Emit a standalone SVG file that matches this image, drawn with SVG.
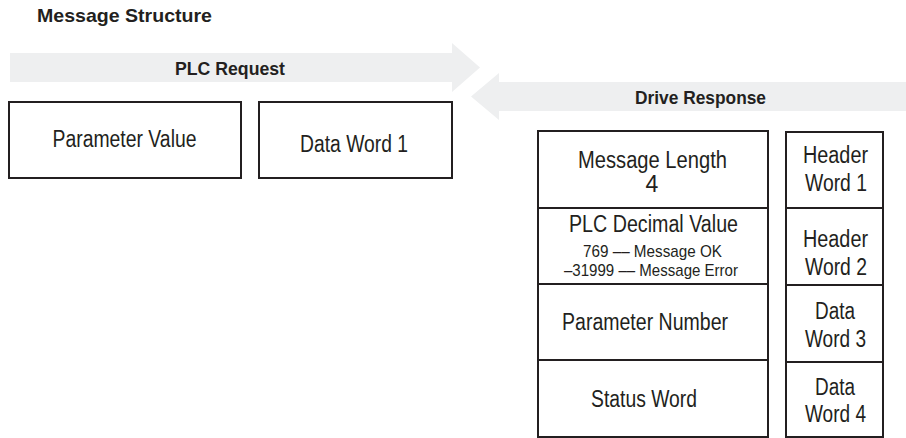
<svg xmlns="http://www.w3.org/2000/svg" width="906" height="438" viewBox="0 0 906 438">
<style>
text{font-family:"Liberation Sans Narrow","Liberation Sans",Arial,sans-serif;fill:#231f20;text-anchor:middle}
.h{font-weight:bold;font-size:19px}
.t{font-size:23px}
.s{font-size:17px}
.box{fill:#fff;stroke:#231f20;stroke-width:2}
.arr{fill:#eeeff0}
</style>
<rect width="906" height="438" fill="#fff"/>
<text class="h" x="37" y="22" style="text-anchor:start" textLength="175" lengthAdjust="spacingAndGlyphs">Message Structure</text>
<g id="connectors">
<polygon class="arr" points="10,53 452,53 452,43 480,67.5 452,92 452,82 10,82"/>
<polygon class="arr" points="906,82 499,82 499,73 471,96.5 499,120 499,111 906,111"/>
<text class="h" x="230" y="75" textLength="110" lengthAdjust="spacingAndGlyphs">PLC Request</text>
<text class="h" x="700.5" y="104" textLength="131" lengthAdjust="spacingAndGlyphs">Drive Response</text>
</g>
<g id="parameter-value">
<rect class="box" x="9" y="102" width="232" height="76"/>
<text class="t" x="124.5" y="147" textLength="144" lengthAdjust="spacingAndGlyphs">Parameter Value</text>
</g>
<g id="data-word-1">
<rect class="box" x="259" y="102" width="193" height="76"/>
<text class="t" x="354" y="152" textLength="108" lengthAdjust="spacingAndGlyphs">Data Word 1</text>
</g>
<g id="message-length">
<rect class="box" x="538" y="131" width="230" height="77"/>
<text class="t" x="652.5" y="168" textLength="149" lengthAdjust="spacingAndGlyphs">Message Length</text>
<text class="t" x="652" y="192">4</text>
</g>
<g id="plc-decimal-value">
<rect class="box" x="538" y="208" width="230" height="76"/>
<text class="t" x="653.5" y="232" textLength="169" lengthAdjust="spacingAndGlyphs">PLC Decimal Value</text>
<text class="s" x="652.5" y="257" textLength="139" lengthAdjust="spacingAndGlyphs">769 –– Message OK</text>
<text class="s" x="651" y="276" textLength="174" lengthAdjust="spacingAndGlyphs">–31999 –– Message Error</text>
</g>
<g id="parameter-number">
<rect class="box" x="538" y="284" width="230" height="76"/>
<text class="t" x="645" y="330" textLength="166" lengthAdjust="spacingAndGlyphs">Parameter Number</text>
</g>
<g id="status-word">
<rect class="box" x="538" y="360" width="230" height="77"/>
<text class="t" x="644" y="407" textLength="106" lengthAdjust="spacingAndGlyphs">Status Word</text>
</g>
<g id="header-word-1">
<rect class="box" x="786" y="132" width="97" height="76"/>
<text class="t" x="835.5" y="163" textLength="65" lengthAdjust="spacingAndGlyphs">Header</text>
<text class="t" x="836" y="191" textLength="62" lengthAdjust="spacingAndGlyphs">Word 1</text>
</g>
<g id="header-word-2">
<rect class="box" x="786" y="208" width="97" height="77"/>
<text class="t" x="835.5" y="247" textLength="65" lengthAdjust="spacingAndGlyphs">Header</text>
<text class="t" x="836" y="275" textLength="62" lengthAdjust="spacingAndGlyphs">Word 2</text>
</g>
<g id="data-word-3">
<rect class="box" x="786" y="285" width="97" height="77"/>
<text class="t" x="835" y="319" textLength="40" lengthAdjust="spacingAndGlyphs">Data</text>
<text class="t" x="835.5" y="347" textLength="61" lengthAdjust="spacingAndGlyphs">Word 3</text>
</g>
<g id="data-word-4">
<rect class="box" x="786" y="362" width="97" height="75"/>
<text class="t" x="835" y="395" textLength="40" lengthAdjust="spacingAndGlyphs">Data</text>
<text class="t" x="835.5" y="422" textLength="61" lengthAdjust="spacingAndGlyphs">Word 4</text>
</g>
</svg>
